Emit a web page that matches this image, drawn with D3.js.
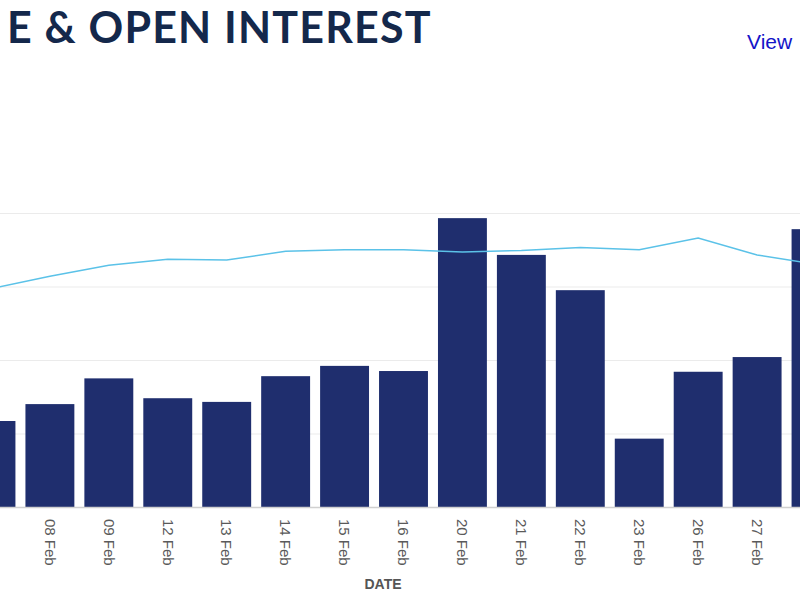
<!DOCTYPE html>
<html>
<head>
<meta charset="utf-8">
<script src="https://cdn.jsdelivr.net/npm/d3@7"></script>
<style>
  html, body { margin: 0; padding: 0; background: #fff; overflow: hidden; }
  svg { display: block; }
</style>
</head>
<body>
<svg id="chart" width="800" height="600"></svg>
<script>
// ---- data ----
const dates = ["07 Feb", "08 Feb", "09 Feb", "12 Feb", "13 Feb", "14 Feb", "15 Feb", "16 Feb",
               "20 Feb", "21 Feb", "22 Feb", "23 Feb", "26 Feb", "27 Feb", "28 Feb"];
const volume = [117, 140, 175, 148, 143, 178, 192, 185, 393, 343, 295, 93, 184, 204, 378];
const openInterest = [297, 314, 329, 337, 336, 348, 350, 350, 347, 349, 353, 350, 366, 343, 330];
const yTicks = [0, 100, 200, 300, 400];
const titleText = "E & OPEN INTEREST";
const linkText = "View";
const xTitle = "DATE";

const svg = d3.select("#chart");

// ---- scales ----
const x = d3.scaleBand().domain(dates).range([-38.5, 845.5]).paddingInner(0.17).paddingOuter(0.085);
const y = d3.scaleLinear().domain([0, 400]).range([507, 213]);
const y2 = d3.scaleLinear().domain([0, 400]).range([507, 213]);

// ---- gridlines ----
svg.append("g")
  .attr("transform", "translate(-40,0)")
  .call(d3.axisLeft(y).tickValues(yTicks).tickSize(-900).tickFormat(""))
  .call(g => g.select(".domain").remove())
  .call(g => g.selectAll(".tick line").attr("stroke", "#ebebeb").attr("stroke-width", 1.2));

// ---- bars ----
svg.append("g").selectAll("rect").data(dates).join("rect")
  .attr("x", d => x(d))
  .attr("width", x.bandwidth())
  .attr("y", (d, i) => y(volume[i]))
  .attr("height", (d, i) => y(0) - y(volume[i]))
  .attr("fill", "#1f2e6e");

// ---- x axis (labels only for the dates that are visible in the frame) ----
const visibleDates = dates.slice(1, dates.length - 1);
const xAxis = svg.append("g")
  .attr("transform", `translate(0,${y(0)})`)
  .call(d3.axisBottom(x).tickValues(visibleDates).tickSize(0).tickPadding(0));
xAxis.select(".domain").attr("stroke", "#d0d0d0").attr("stroke-width", 1.5);
xAxis.selectAll(".tick text")
  .attr("font-family", "Liberation Sans, Arial, sans-serif")
  .attr("font-size", 15)
  .attr("fill", "#5a5a5a")
  .attr("text-anchor", "start")
  .attr("dy", "0.35em")
  .attr("transform", "translate(0,12) rotate(90)");

// ---- open interest line ----
svg.append("path")
  .datum(dates)
  .attr("fill", "none")
  .attr("stroke", "#5bc2e8")
  .attr("stroke-width", 1.5)
  .attr("d", d3.line().x(d => x(d) + x.bandwidth() / 2).y((d, i) => y2(openInterest[i])));

// ---- axis title ----
svg.append("text")
  .attr("x", 383).attr("y", 589)
  .attr("text-anchor", "middle")
  .attr("font-family", "Liberation Sans, Arial, sans-serif")
  .attr("font-weight", "bold")
  .attr("font-size", 14)
  .attr("fill", "#555")
  .text(xTitle);

// ---- title ----
const title = svg.append("text")
  .attr("x", 7).attr("y", 43)
  .attr("font-family", "Lato, sans-serif")
  .attr("font-weight", 700)
  .attr("font-size", 43)
  .attr("letter-spacing", 1.5)
  .attr("fill", "#14284b")
  .text(titleText);
const node = title.node();
const s0 = node.getStartPositionOfChar(0).x;
const e0 = node.getEndPositionOfChar(titleText.length - 1).x;
const extra = (425 - (e0 - s0)) / (titleText.length - 1);
title.attr("letter-spacing", 1.5 + extra);

// ---- link ----
svg.append("text")
  .attr("x", 747).attr("y", 49)
  .attr("font-family", "Liberation Sans, Arial, sans-serif")
  .attr("font-size", 21)
  .attr("fill", "#1414c8")
  .text(linkText);
</script>
</body>
</html>
